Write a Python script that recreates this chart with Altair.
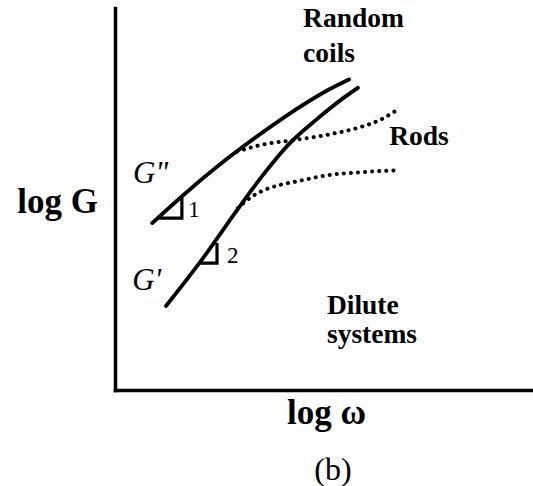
import altair as alt
import pandas as pd

# Schematic storage / loss moduli vs frequency, arbitrary log units (0-10 on both axes)

# G'' (loss modulus), random coils
gpp_x = [0.89, 1.79, 2.75, 3.54, 4.35, 5.14, 5.60]
gpp_y = [4.37, 5.25, 6.11, 6.75, 7.36, 7.88, 8.13]

# G' (storage modulus), random coils
gp_x = [1.22, 2.11, 2.92, 3.52, 4.19, 4.83, 5.46, 5.81]
gp_y = [2.20, 3.46, 4.71, 5.60, 6.47, 7.09, 7.64, 7.91]

# Rod branches (dotted), leaving each curve
rods_upper_x = [2.92, 3.47, 4.26, 5.07, 5.86, 6.34, 6.75]
rods_upper_y = [6.24, 6.41, 6.54, 6.68, 6.88, 7.07, 7.33]
rods_lower_x = [2.94, 3.23, 3.52, 3.95, 4.35, 5.07, 5.86, 6.75]
rods_lower_y = [4.76, 5.03, 5.21, 5.37, 5.46, 5.62, 5.70, 5.75]

# Slope triangles (base left, base right, apex)
tri1_x = [1.00, 1.60, 1.60]
tri1_y = [4.50, 4.50, 5.03]
tri2_x = [2.01, 2.44, 2.44]
tri2_y = [3.32, 3.32, 3.85]

# Text annotations
note_text = ["Random", "coils", "Rods", "Dilute", "systems"]
note_x = [4.50, 4.50, 6.56, 5.07, 5.07]
note_y = [9.50, 8.59, 6.41, 2.00, 1.23]

mod_text = ['G"', "G'"]
mod_x = [0.43, 0.41]
mod_y = [5.42, 2.62]

slope_text = ["1", "2"]
slope_x = [1.75, 2.68]
slope_y = [4.53, 3.33]

SERIF = "Liberation Serif"


def frame(xs, ys, name):
    return pd.DataFrame({"x": xs, "y": ys, "name": name, "i": list(range(len(xs)))})


solid = pd.concat([
    frame(gpp_x, gpp_y, "gpp"),
    frame(gp_x, gp_y, "gp"),
])
dotted = pd.concat([
    frame(rods_upper_x, rods_upper_y, "upper"),
    frame(rods_lower_x, rods_lower_y, "lower"),
])
triangles = pd.concat([
    frame(tri1_x, tri1_y, "t1"),
    frame(tri2_x, tri2_y, "t2"),
])
notes = pd.DataFrame({"x": note_x, "y": note_y, "label": note_text})
mods = pd.DataFrame({"x": mod_x, "y": mod_y, "label": mod_text})
slopes = pd.DataFrame({"x": slope_x, "y": slope_y, "label": slope_text})

x_scale = alt.Scale(domain=[0, 10], nice=False, zero=False)
y_scale = alt.Scale(domain=[0, 10], nice=False, zero=False)

x_axis = alt.Axis(
    domain=True, domainColor="black", domainWidth=3.5, domainCap="square",
    ticks=False, labels=False, grid=False,
    title="log ω", titleFont=SERIF, titleFontSize=35, titleFontWeight="bold",
    titleColor="black", titleAlign="center", titleBaseline="alphabetic",
    titleX=211, titleY=33,
)
y_axis = alt.Axis(
    domain=True, domainColor="black", domainWidth=3.5, domainCap="square",
    ticks=False, labels=False, grid=False,
    title="log G", titleFont=SERIF, titleFontSize=35, titleFontWeight="bold",
    titleColor="black", titleAngle=0, titleAlign="center", titleBaseline="alphabetic",
    titleX=-58, titleY=204,
)

X = alt.X("x:Q", scale=x_scale, axis=x_axis)
Y = alt.Y("y:Q", scale=y_scale, axis=y_axis)

solid_lines = alt.Chart(solid).mark_line(
    color="black", strokeWidth=3.8, interpolate="monotone", strokeCap="round"
).encode(x=X, y=Y, detail="name:N", order="i:Q")

dotted_lines = alt.Chart(dotted).mark_line(
    color="black", strokeWidth=4, interpolate="monotone",
    strokeCap="round", strokeDash=[0.1, 7]
).encode(x=X, y=Y, detail="name:N", order="i:Q")

tri_lines = alt.Chart(triangles).mark_line(
    color="black", strokeWidth=3.2, strokeJoin="miter"
).encode(x=X, y=Y, detail="name:N", order="i:Q")

note_marks = alt.Chart(notes).mark_text(
    font=SERIF, fontSize=27.5, fontWeight="bold", color="black",
    align="left", baseline="alphabetic"
).encode(x=X, y=Y, text="label:N")

mod_marks = alt.Chart(mods).mark_text(
    font=SERIF, fontSize=31, fontStyle="italic", color="black",
    align="left", baseline="alphabetic"
).encode(x=X, y=Y, text="label:N")

slope_marks = alt.Chart(slopes).mark_text(
    font=SERIF, fontSize=23, color="black",
    align="left", baseline="alphabetic"
).encode(x=X, y=Y, text="label:N")

chart = alt.layer(
    solid_lines, dotted_lines, tri_lines, note_marks, mod_marks, slope_marks
).properties(
    width=418,
    height=382,
    padding={"left": 115, "top": 8, "right": 0, "bottom": 96},
    autosize=alt.AutoSizeParams(type="none"),
    background="white",
    title=alt.TitleParams(
        "(b)", orient="bottom", anchor="middle", frame="group",
        font=SERIF, fontSize=32, fontWeight="normal", color="black",
        offset=25, dx=9,
    ),
).configure_view(stroke=None)

chart.save("out.html", embed_options={"renderer": "svg", "actions": False})
